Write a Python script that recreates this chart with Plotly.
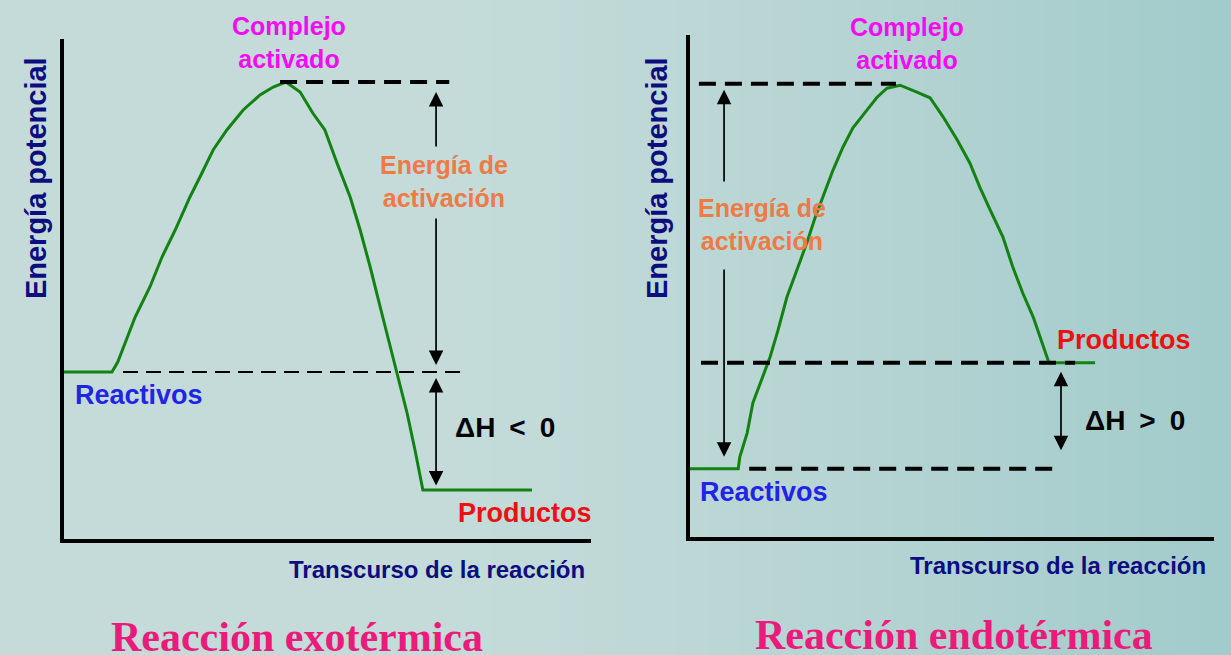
import plotly.graph_objects as go

# ---------------- data (0-100 arbitrary units) -------------
# Exothermic panel
exo_progress = [0, 9.1, 10.2, 11.6, 13.5, 16.3, 18.6, 21.1, 23.9, 25.8, 28.3, 30.9,
                34.0, 37.2, 39.7, 42.1, 44.8, 47.2, 49.5, 51.8, 54.3, 56.2, 58.1,
                60.0, 61.9, 63.2, 65.1, 66.6, 68.1, 88.8]
exo_energy = [33.4, 33.4, 35.4, 39.2, 44.4, 50.4, 56.4, 61.8, 68.4, 72.4, 77.8, 81.8,
              85.8, 88.8, 90.4, 91.4, 89.4, 85.2, 81.8, 75.2, 68.4, 61.8, 54.4,
              46.4, 38.4, 33.2, 25.2, 17.8, 9.8, 9.8]
exo_reactivos = 33.4
exo_complejo = 91.4
exo_productos = 9.8

# Endothermic panel
endo_progress = [0, 9.2, 9.5, 10.9, 12.0, 13.7, 15.3, 16.8, 18.5, 20.4, 22.3, 23.9,
                 25.4, 27.3, 29.2, 31.1, 33.8, 35.7, 37.6, 40.1, 43.3, 45.8, 48.3,
                 51.0, 53.4, 55.3, 57.3, 59.7, 61.6, 63.5, 65.5, 67.4, 68.5, 77.3]
endo_energy = [13.6, 13.6, 15.9, 20.7, 26.7, 31.3, 35.9, 41.2, 47.8, 53.2, 58.6, 63.7,
               67.7, 73.1, 77.7, 81.5, 85.1, 87.6, 89.4, 90.0, 88.6, 87.5, 83.7,
               79.1, 74.5, 69.7, 65.1, 59.8, 53.8, 48.6, 43.8, 37.8, 34.7, 34.7]
endo_reactivos = 13.6
endo_complejo = 90.3
endo_productos = 34.7

# guide-line spans along the progress axis
exo_complejo_span = [41.0, 73.1]
exo_reactivos_span = [11.2, 76.3]
endo_complejo_span = [1.7, 39.3]
endo_productos_span = [2.1, 73.5]
endo_reactivos_span = [11.3, 70.8]

# text labels
lbl_complejo = "Complejo<br>activado"
lbl_ea = "Energía de<br>activación"
lbl_reac = "Reactivos"
lbl_prod = "Productos"
lbl_dh_exo = "ΔH\u2002<\u20020"
lbl_dh_endo = "ΔH\u2002>\u20020"
lbl_x = "Transcurso de la reacción"
lbl_y = "Energía potencial"
title_exo = "Reacción exotérmica"
title_endo = "Reacción endotérmica"

# ---------------- styles ---------------
GREEN = "#128212"
SANS = "Liberation Sans"
SERIF = "Liberation Serif"
W, H = 1231, 655

DOM = {
    "x": [64 / W, 591 / W], "y": [1 - 539 / H, 1 - 39 / H],
    "x2": [690 / W, 1214 / W], "y2": [1 - 537 / H, 1 - 35 / H],
}

def to_paper(axis, v):
    d = DOM[axis]
    return d[0] + (d[1] - d[0]) * v / 100.0

fig = go.Figure()

# curves
for xs, ys, xa, ya in [(exo_progress, exo_energy, "x", "y"),
                       (endo_progress, endo_energy, "x2", "y2")]:
    fig.add_trace(go.Scatter(x=xs, y=ys, mode="lines",
                             line=dict(color=GREEN, width=3),
                             xaxis=xa, yaxis=ya, hoverinfo="skip"))

def dashed(span, level, xa, ya, width, dash):
    fig.add_trace(go.Scatter(x=span, y=[level, level], mode="lines",
                             line=dict(color="black", width=width, dash=dash),
                             xaxis=xa, yaxis=ya, hoverinfo="skip"))

dashed(exo_complejo_span, exo_complejo, "x", "y", 4, "17px,9px")
dashed(exo_reactivos_span, exo_reactivos, "x", "y", 2, "15px,8px")
dashed(endo_complejo_span, endo_complejo, "x2", "y2", 4, "17px,9px")
dashed(endo_productos_span, endo_productos, "x2", "y2", 4, "17px,9px")
dashed(endo_reactivos_span, endo_reactivos, "x2", "y2", 4, "17px,9px")

ann = []

def arrow(xa, ya, x, y_tip, y_tail, both=False):
    ann.append(dict(x=x, y=y_tip, ax=x, ay=y_tail, xref=xa, yref=ya,
                    axref=xa, ayref=ya, text="", showarrow=True,
                    arrowhead=2, arrowsize=1.7, arrowwidth=1.7, arrowcolor="black",
                    arrowside="end+start" if both else "end", standoff=0,
                    startstandoff=0))

# exothermic arrows
arrow("x", "y", 70.6, exo_complejo - 2.0, 78.2)
arrow("x", "y", 70.6, exo_reactivos + 1.4, 64.4)
arrow("x", "y", 70.6, exo_reactivos - 1.2, exo_productos + 0.6, both=True)
# endothermic arrows
arrow("x2", "y2", 6.5, endo_complejo - 1.2, 70.5)
arrow("x2", "y2", 6.5, endo_reactivos + 2.4, 53.6)
arrow("x2", "y2", 70.8, endo_productos - 1.8, endo_reactivos + 3.4, both=True)

def text(xa, ya, x, y, t, color, size, xanchor="center", family=SANS,
         angle=0, weight="bold"):
    ann.append(dict(x=to_paper(xa, x), y=to_paper(ya, y), xref="paper", yref="paper",
                    text=t, showarrow=False,
                    xanchor=xanchor, yanchor="middle", textangle=angle,
                    font=dict(family=family, size=size, color=color, weight=weight)))

MAG, ORA, BLU, RED, NAV = "#f20cf2", "#ee7a45", "#1f24e6", "#ee1010", "#0d0d80"

# exothermic labels
text("x", "y", 42.7, 99.4, lbl_complejo, MAG, 25)
text("x", "y", 72.1, 71.4, lbl_ea, ORA, 25)
text("x", "y", 1.7, 28.8, lbl_reac, BLU, 27, "left")
text("x", "y", 73.8, 22.4, lbl_dh_exo, "black", 28, "left")
text("x", "y", 74.4, 5.2, lbl_prod, RED, 27, "left")
text("x", "y", 99.2, -6.0, lbl_x, NAV, 24, "right")
text("x", "y", -5.3, 72.2, lbl_y, NAV, 29, angle=-90)
# endothermic labels
text("x2", "y2", 41.4, 98.3, lbl_complejo, MAG, 25)
text("x2", "y2", 1.1, 62.2, lbl_ea, ORA, 25, "left")
text("x2", "y2", 69.7, 39.2, lbl_prod, RED, 27, "left")
text("x2", "y2", 75.0, 23.3, lbl_dh_endo, "black", 28, "left")
text("x2", "y2", 1.5, 9.0, lbl_reac, BLU, 27, "left")
text("x2", "y2", 98.9, -5.6, lbl_x, NAV, 24, "right")
text("x2", "y2", -6.3, 71.5, lbl_y, NAV, 29, angle=-90)

# panel titles (cut by the bottom edge, as in the original)
ann.append(dict(x=297 / W, y=1 - 637 / H, xref="paper", yref="paper", text=title_exo,
                showarrow=False, xanchor="center", yanchor="middle",
                font=dict(family=SERIF, size=42, color="#ec1a7b", weight="bold")))
ann.append(dict(x=954 / W, y=1 - 635 / H, xref="paper", yref="paper", text=title_endo,
                showarrow=False, xanchor="center", yanchor="middle",
                font=dict(family=SERIF, size=42, color="#ec1a7b", weight="bold")))

# background gradient (vertical strips)
shapes = []
n = 40
c0 = (0xc4, 0xdb, 0xd9)
c1 = (0xa2, 0xcb, 0xcb)
for i in range(n):
    t = i / (n - 1)
    f = max(0.0, (t - 0.35) / 0.65) ** 1.3
    col = tuple(int(round(c0[k] + (c1[k] - c0[k]) * f)) for k in range(3))
    shapes.append(dict(type="rect", xref="paper", yref="paper",
                       x0=i / n, x1=(i + 1) / n + 0.002, y0=0, y1=1,
                       line=dict(width=0), fillcolor="rgb(%d,%d,%d)" % col,
                       layer="below"))

axis_common = dict(showgrid=False, zeroline=False, showticklabels=False, ticks="",
                   showline=True, linecolor="black", linewidth=4, range=[0, 100],
                   fixedrange=True)

fig.update_layout(
    width=W, height=H,
    margin=dict(l=0, r=0, t=0, b=0),
    paper_bgcolor="#c4dbd9",
    plot_bgcolor="rgba(0,0,0,0)",
    showlegend=False,
    shapes=shapes,
    annotations=ann,
    xaxis=dict(domain=DOM["x"], anchor="y", **axis_common),
    yaxis=dict(domain=DOM["y"], anchor="x", **axis_common),
    xaxis2=dict(domain=DOM["x2"], anchor="y2", **axis_common),
    yaxis2=dict(domain=DOM["y2"], anchor="x2", **axis_common),
)

fig.write_html("out.html", config={"displayModeBar": False},
               post_script="document.body.style.margin='0';"
                           "document.body.style.overflow='hidden';")
